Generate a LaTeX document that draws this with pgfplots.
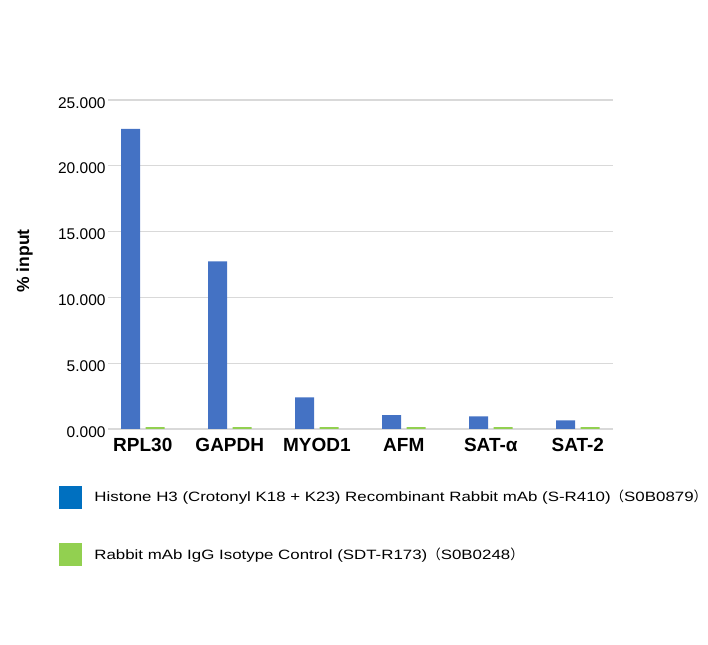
\documentclass[border=0pt]{standalone}
\usepackage{pgfplots}
\pgfplotsset{compat=1.18}
\usepackage{fontspec}
\setmainfont{Liberation Sans}
\newfontfamily\legfont[FakeStretch=1.25]{Liberation Sans}
\newfontfamily\cjk{Noto Sans CJK SC}
\definecolor{barblue}{HTML}{4472C4}
\definecolor{bargreen}{HTML}{92D050}
\definecolor{legblue}{HTML}{0070C0}
\definecolor{gridgray}{HTML}{D9D9D9}
\begin{document}
\begin{tikzpicture}[x=1pt,y=1pt]
\path[use as bounding box] (0,0) rectangle (708,644);
\begin{axis}[
  at={(108pt,215pt)}, anchor=south west,
  scale only axis, width=504.6pt, height=329pt,
  xmin=-0.4, xmax=5.4, ymin=0, ymax=25,
  xtick={0,1,2,3,4,5},
  xticklabels={RPL30,GAPDH,MYOD1,AFM,SAT-α,SAT-2},
  ytick={0,5,10,15,20,25},
  axis line style={draw=none},
  major tick length=0pt,
  ymajorgrids, major grid style={gridgray, line width=1.3pt},
  /pgf/number format/.cd, fixed, fixed zerofill, precision=3, assume math mode=true,
  /pgfplots/.cd,
  yticklabel style={font=\fontsize{15.5}{18}\selectfont, anchor=east, inner sep=0pt, xshift=-2.3pt, yshift=-2.8pt},
  xticklabel style={font=\bfseries\fontsize{19}{22}\selectfont, anchor=base, inner sep=0pt, yshift=-22.5pt},
  legend style={at={(axis description cs:-0.0977,-0.1733)}, anchor=north west,
    draw=none, fill=none, inner sep=0pt, outer sep=0pt,
    row sep=35.5pt, column sep=13.3pt,
    nodes={inner sep=0pt, anchor=base west},
    font=\legfont\fontsize{13.5}{16}\selectfont},
  legend cell align=left,
]
\addplot[ybar, bar width=19pt, bar shift=-12.3pt, fill=barblue, draw=none, forget plot]
  coordinates {(0,22.8) (1,12.73) (2,2.4) (3,1.06) (4,0.96) (5,0.66)};
\addplot[ybar, bar width=19pt, bar shift=12.3pt, fill=bargreen, draw=none, forget plot]
  coordinates {(0,0.15) (1,0.15) (2,0.15) (3,0.15) (4,0.15) (5,0.15)};
\addlegendimage{legend image code/.code={\fill[legblue] (0pt,-6pt) rectangle (22pt,15.5pt);}}
\addlegendentry{Histone H3 (Crotonyl K18 + K23) Recombinant Rabbit mAb (S-R410){\cjk （}S0B0879{\cjk ）}}
\addlegendimage{legend image code/.code={\fill[bargreen] (0pt,-6pt) rectangle (22pt,15.5pt);}}
\addlegendentry{Rabbit mAb IgG Isotype Control (SDT-R173){\cjk （}S0B0248{\cjk ）}}
\end{axis}
\node[rotate=90, font=\bfseries\fontsize{17.5}{20}\selectfont] at (24.5,383) {\% input};
\end{tikzpicture}
\end{document}
